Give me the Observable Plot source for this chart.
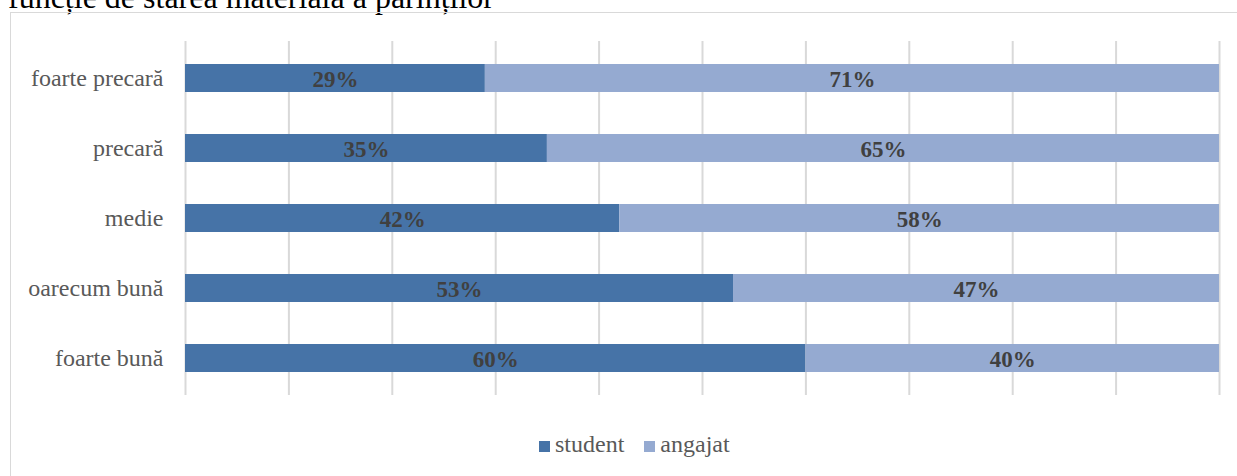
<!DOCTYPE html>
<html>
<head>
<meta charset="utf-8">
<script src="https://cdn.jsdelivr.net/npm/d3@7"></script>
<script src="https://cdn.jsdelivr.net/npm/@observablehq/plot@0.6"></script>
<style>
  body { margin: 0; background: #fff; font-family: "Liberation Serif", serif; overflow: hidden; }
  #wrap { position: relative; width: 1237px; height: 476px; overflow: hidden; }
  #title { position: absolute; left: 8px; top: -19px; font-size: 32px; line-height: 32px; color: #000; white-space: nowrap; }
  #box { position: absolute; left: 10px; top: 12px; width: 1260px; height: 480px; border: 1.5px solid #d9d9d9; box-sizing: border-box; }
  #chart { position: absolute; left: 0; top: 0; }
  #chart svg, #chart svg text { font-family: "Liberation Serif", serif; }
  #legend { position: absolute; top: 432px; left: 539px; font-size: 24px; line-height: 24px; color: #595959; white-space: nowrap; }
  #legend .sw { display: inline-block; width: 11px; height: 11px; margin-right: 5px; vertical-align: baseline; }
  #legend .item { display: inline-block; margin-right: 20px; }
</style>
</head>
<body>
<div id="wrap">
  <div id="title">funcție de starea materială a părinților</div>
  <div id="box"></div>
  <div id="chart"></div>
  <div id="legend"></div>
</div>
<script>
const categories = ["foarte precară", "precară", "medie", "oarecum bună", "foarte bună"];
const series = ["student", "angajat"];
const studentValues = [29, 35, 42, 53, 60];
const angajatValues = [71, 65, 58, 47, 40];
const colors = ["#4673A7", "#95AAD1"];
const gridTicks = [0, 10, 20, 30, 40, 50, 60, 70, 80, 90, 100];

const data = [];
categories.forEach((c, i) => {
  data.push({category: c, series: "student", value: studentValues[i]});
  data.push({category: c, series: "angajat", value: angajatValues[i]});
});

const chart = Plot.plot({
  width: 1237,
  height: 410,
  marginLeft: 185,
  marginRight: 18,
  marginTop: 41,
  marginBottom: 15,
  style: {fontFamily: "Liberation Serif, serif", background: "transparent"},
  x: {domain: [0, 100], axis: null},
  y: {domain: categories, paddingInner: 0.599, paddingOuter: 0.296, label: null},
  color: {domain: series, range: colors},
  marks: [
    Plot.ruleX(gridTicks, {stroke: "#d9d9d9", strokeWidth: 2}),
    Plot.barX(data, Plot.stackX({x: "value", y: "category", fill: "series", order: series})),
    Plot.text(data, Plot.stackX({x: "value", y: "category", z: "series", order: series,
      text: d => d.value + "%", fill: "#404040", fontWeight: "bold", fontSize: 23, dy: 1})),
    Plot.axisY({tickSize: 0, tickPadding: 22, fontSize: 24, color: "#595959", label: null})
  ]
});
document.getElementById("chart").appendChild(chart);

const legend = document.getElementById("legend");
series.forEach((s, i) => {
  const item = document.createElement("span");
  item.className = "item";
  const sw = document.createElement("span");
  sw.className = "sw";
  sw.style.background = colors[i];
  item.appendChild(sw);
  item.appendChild(document.createTextNode(s));
  legend.appendChild(item);
});
</script>
</body>
</html>
